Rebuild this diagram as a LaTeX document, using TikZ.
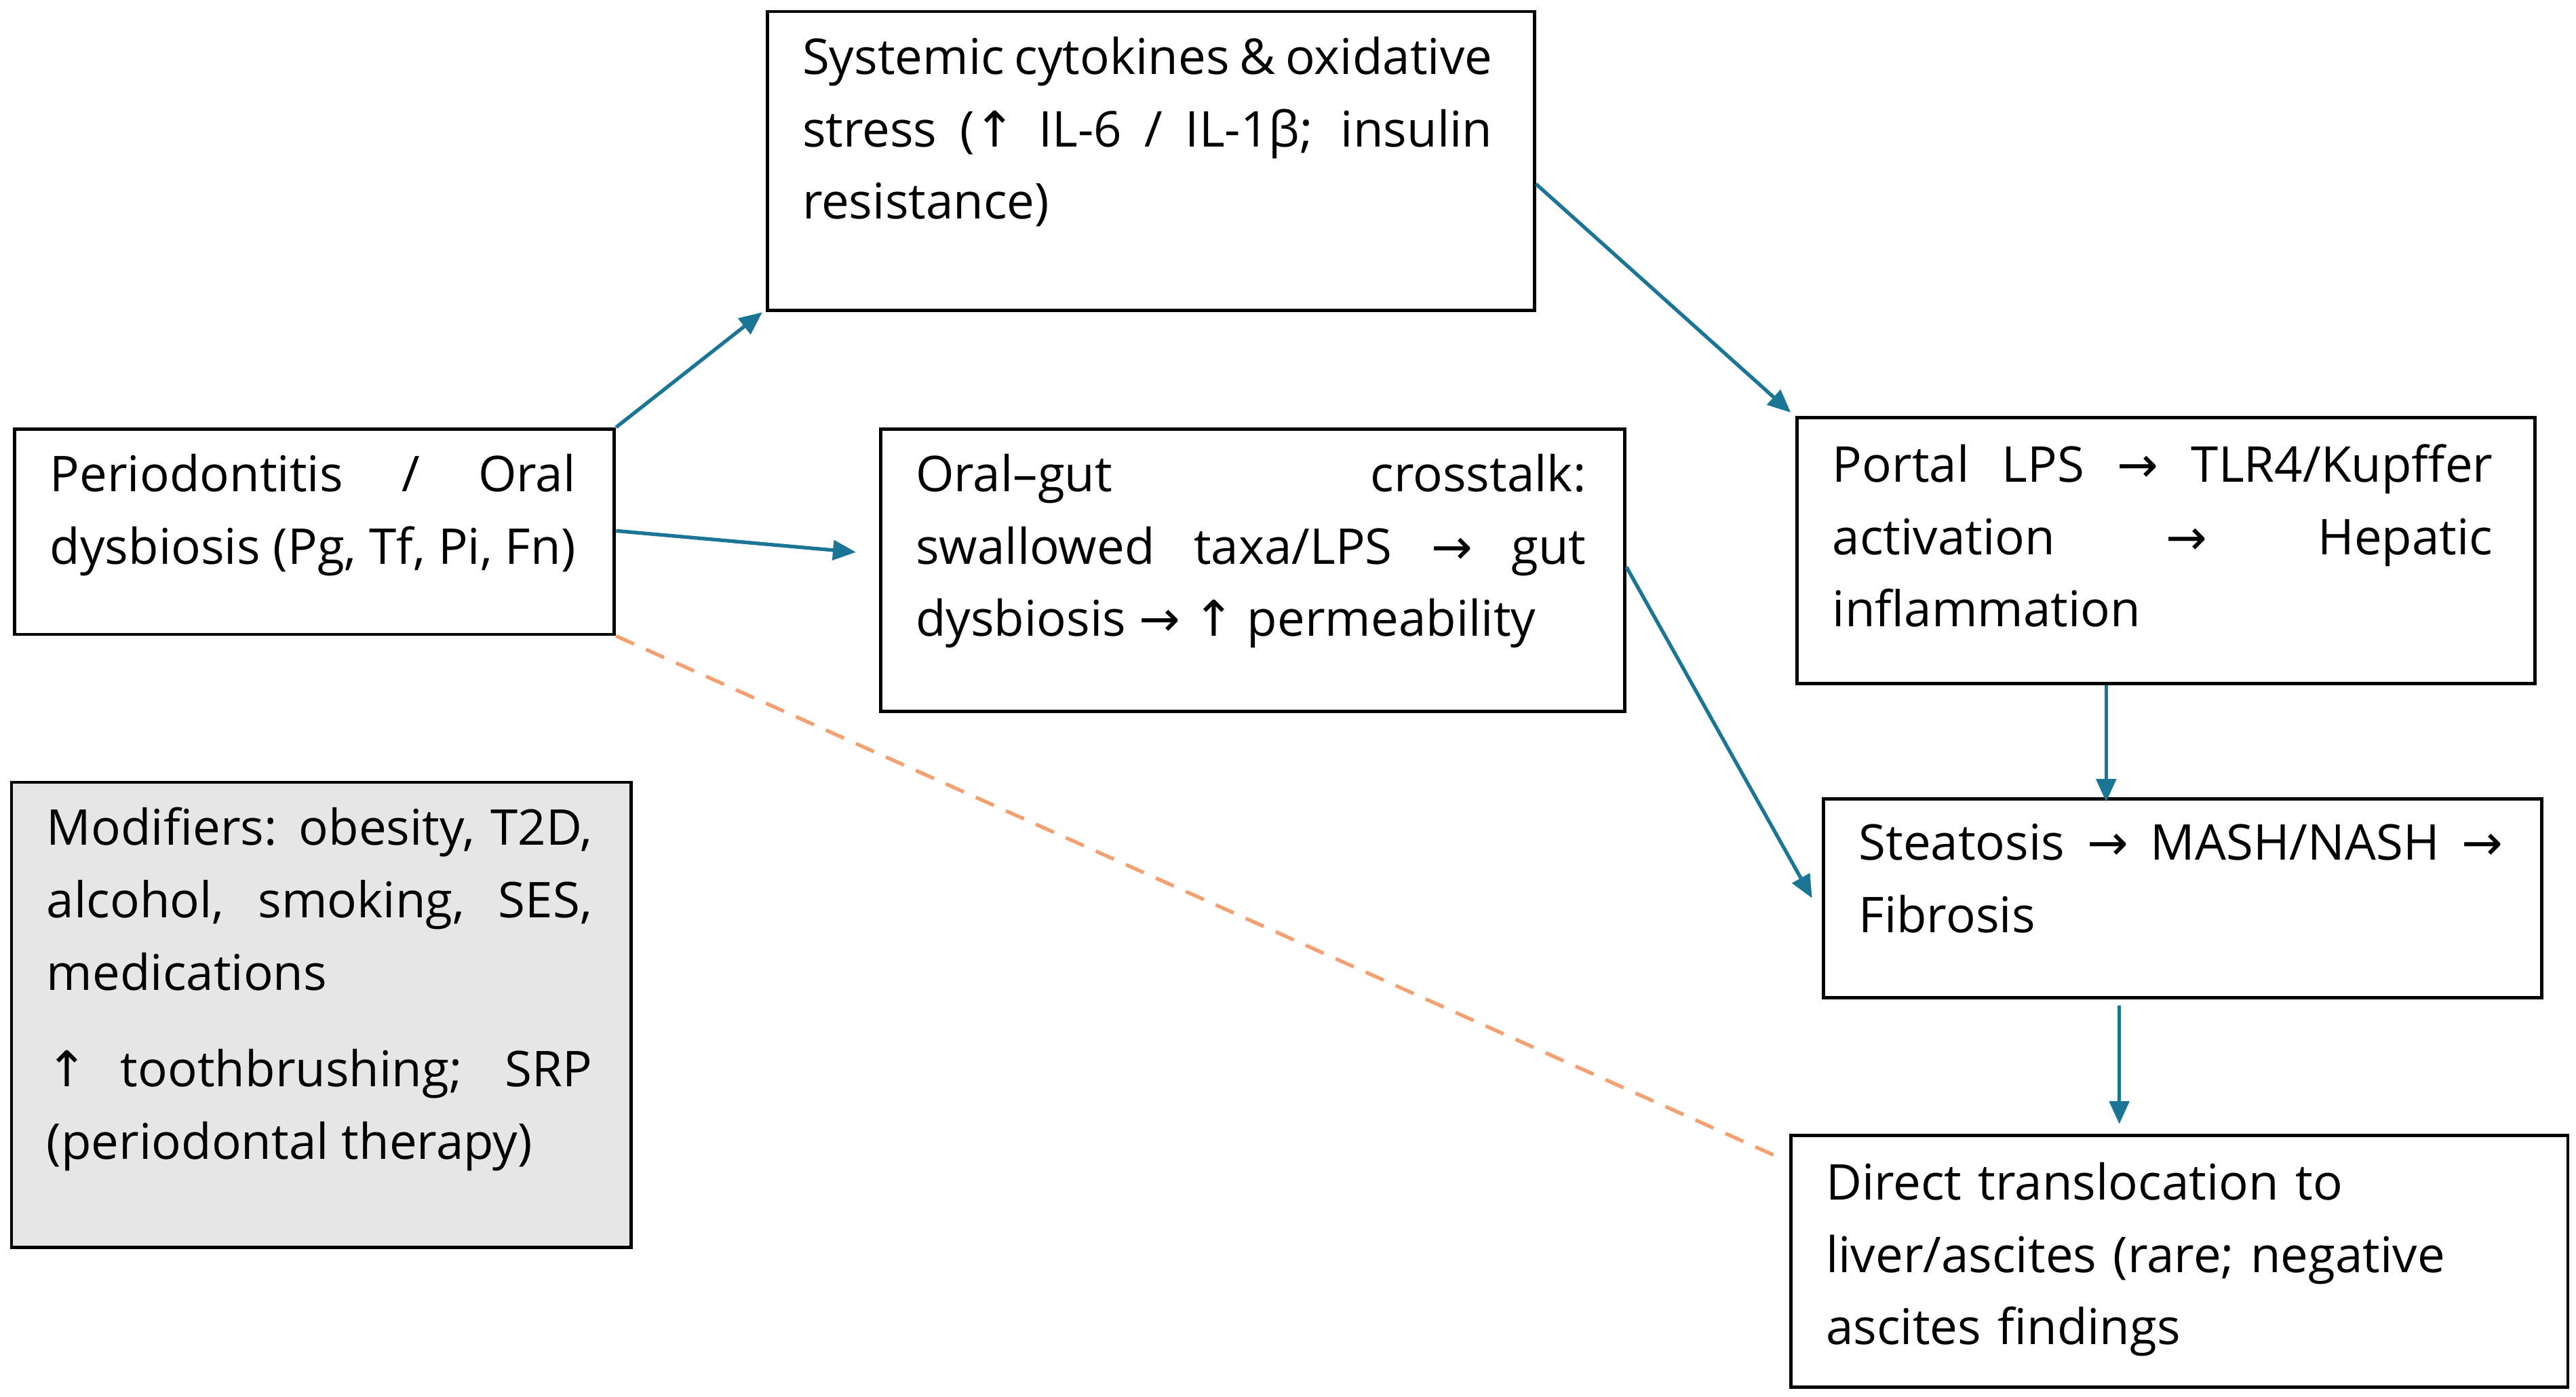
\documentclass[tikz,border=0pt]{standalone}
\usepackage{fontspec}
\setmainfont{Open Sans}
\newfontfamily\symf{DejaVu Sans}
\newcommand{\ra}{{\symf →}}
\newcommand{\ua}{{\symf ↑}}
\usetikzlibrary{calc,arrows.meta}
\definecolor{teal}{HTML}{1B7696}
\definecolor{dorange}{HTML}{F4A070}
\definecolor{gfill}{HTML}{E6E6E6}
\begin{document}
\hyphenpenalty=10000 \exhyphenpenalty=10000 \emergencystretch=3em \tolerance=9999
\begin{tikzpicture}[x=0.5pt,y=-0.5pt,
  box/.style={draw=black,line width=1pt,inner sep=0pt},
  txt/.style={anchor=north west,inner sep=0pt,font=\fontsize{15pt}{22pt}\selectfont},
  arr/.style={draw=teal,line width=1.1pt,-{Triangle[length=7pt,width=6pt]}}]
\useasboundingbox (0,0) rectangle (1568,850);
\fill[white] (0,0) rectangle (1568,850);
\newcommand{\bx}[5]{\node[box,#5,anchor=north west,minimum width=#3*0.5pt,minimum height=#4*0.5pt] (#1) at (#2) {};}
\bx{sys}{466,6}{467}{182}{}
\bx{peri}{8,260}{365}{125}{}
\bx{og}{535,260}{453}{172}{}
\bx{portal}{1093,253}{449}{162}{}
\bx{steat}{1109,485}{437}{121}{}
\bx{dir}{1089,690}{473}{153}{}
\bx{mod}{6,475}{377}{283}{fill=gfill}
\node[txt,text width=210pt,align=justify] (tsys) at (488,22) {Systemic cytokines \& oxidative stress (\ua{} IL-6 / IL-1β; insulin resistance)};
\node[txt,text width=160pt,align=justify] (tperi) at (30,276) {Periodontitis / Oral dysbiosis (Pg, Tf, Pi, Fn)};
\node[txt,text width=204pt,align=justify] (tog) at (557,276) {Oral–gut crosstalk: swallowed taxa/LPS \ra{} gut dysbiosis \ra{} \ua{} permeability};
\node[txt,text width=201pt,align=justify] (tportal) at (1115,270) {Portal LPS \ra{} TLR4/Kupffer activation \ra{} Hepatic inflammation};
\node[txt,text width=196pt,align=justify] (tsteat) at (1131,501) {Steatosis \ra{} MASH/NASH \ra{} Fibrosis};
\node[txt,text width=210pt,align=left] (tdir) at (1111,707) {Direct translocation to liver/ascites (rare; negative ascites findings};
\node[txt,text width=166pt,align=justify] (tmod) at (28,491) {Modifiers: obesity, T2D, alcohol, smoking, SES, medications\\[0.5em] \ua{} toothbrushing; SRP (periodontal therapy)};
\draw[arr] (peri.north east) -- ($(sys.south west)+(-2,0)$);
\draw[arr] ($(peri.north east)+(0,63)$) -- ($(og.west)+(-14,-11)$);
\draw[arr] ($(sys.north east)+(0,106)$) -- ($(portal.north west)+(-3,-2)$);
\draw[arr] ($(og.north east)+(0,85)$) -- ($(steat.west)+(-6,0)$);
\draw[arr] ($(portal.south west)+(189,0)$) -- ($(steat.north west)+(173,3)$);
\draw[arr] ($(steat.south west)+(181,4)$) -- ($(dir.north west)+(201,-6)$);
\draw[dorange,line width=1.1pt,dash pattern=on 6pt off 4pt] (peri.south east) -- ($(dir.north west)+(-9,13)$);
\end{tikzpicture}
\end{document}
